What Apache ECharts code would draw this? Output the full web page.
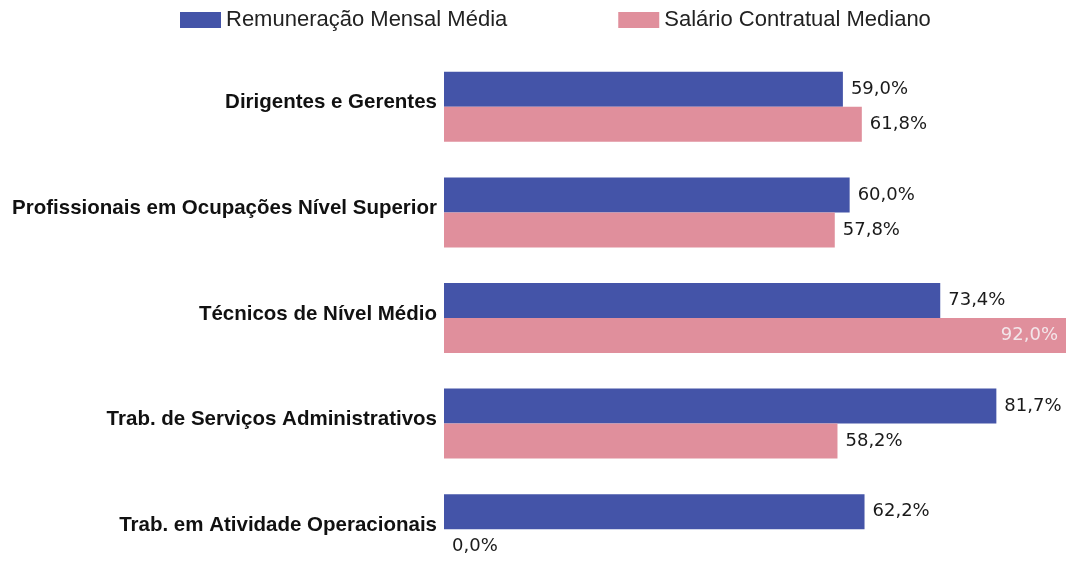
<!DOCTYPE html>
<html><head><meta charset="utf-8">
<script src="https://cdn.jsdelivr.net/npm/echarts@6/dist/echarts.min.js"></script>
<style>html,body{margin:0;padding:0;background:#fff}#c{width:1066px;height:561px}</style>
</head><body><div id="c"></div>
<script>
const categories = ["Dirigentes e Gerentes","Profissionais em Ocupações Nível Superior","Técnicos de Nível Médio","Trab. de Serviços Administrativos","Trab. em Atividade Operacionais"];
const remuneracao = [59.0, 60.0, 73.4, 81.7, 62.2];
const salario = [61.8, 57.8, 92.0, 58.2, 0.0];
const seriesNames = ["Remuneração Mensal Média","Salário Contratual Mediano"];

const fmt = p => p.value.toFixed(1).replace('.', ',') + '%';
const lbl = {show:true, position:'right', distance:8, color:'#1a1a1a', fontFamily:'DejaVu Sans', fontSize:18, formatter:fmt};
const maxVal = Math.max(...remuneracao, ...salario);

const chart = echarts.init(document.getElementById('c'), null, {renderer:'canvas'});
chart.setOption({
  animation:false,
  legend:{top:4, left:175, itemWidth:41, itemHeight:16, itemGap:111, icon:'rect',
    textStyle:{fontFamily:'Liberation Sans', fontSize:22, color:'#222'},
    data:seriesNames},
  grid:{left:444, right:0, top:54, height:528, containLabel:false, outerBoundsMode:'none'},
  xAxis:{type:'value', min:0, max:maxVal, show:false},
  yAxis:{type:'category', inverse:true, data:categories,
    axisLine:{show:false}, axisTick:{show:false},
    axisLabel:{fontFamily:'Liberation Sans', fontWeight:'bold', fontSize:20.5, color:'#111', margin:7,
      verticalAlign:'bottom', lineHeight:8}},
  series:[
    {name:seriesNames[0], type:'bar', data:remuneracao, barWidth:35, barGap:'0%',
      itemStyle:{color:'#4454a8'}, label:lbl},
    {name:seriesNames[1], type:'bar', data:salario.map(v => v === maxVal ?
        {value:v, label:{position:'insideRight', distance:8, color:'#f3e6ea'}} : v),
      barWidth:35, itemStyle:{color:'#e08f9c'}, label:lbl}
  ]
});
</script></body></html>
